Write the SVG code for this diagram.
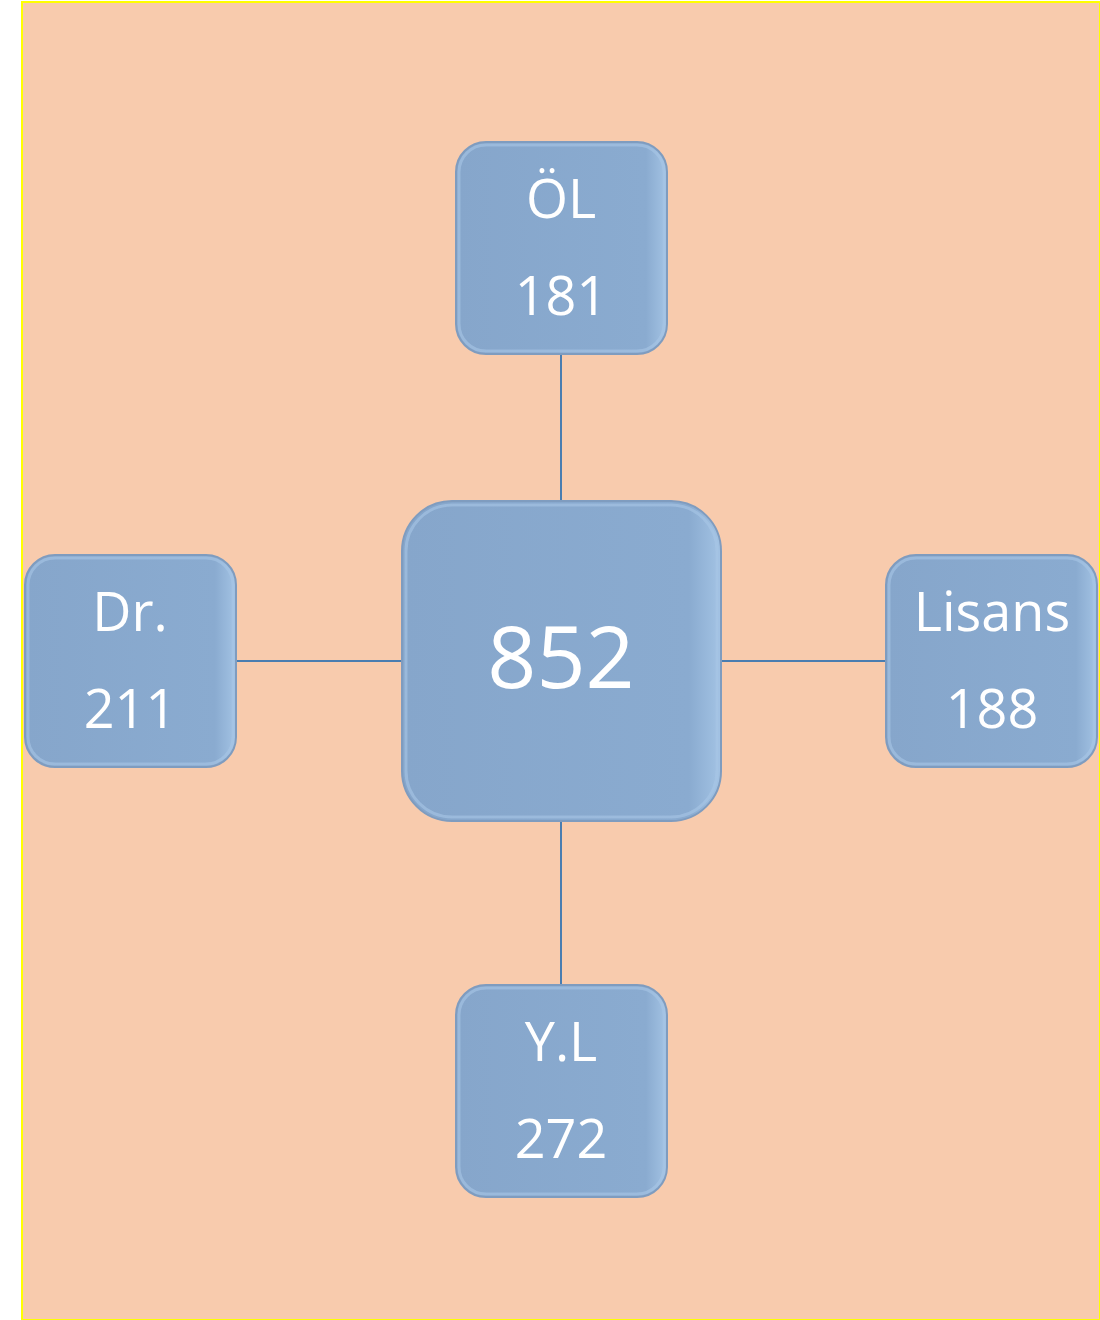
<svg xmlns="http://www.w3.org/2000/svg" width="1100" height="1320" viewBox="0 0 1100 1320">
<defs>
<linearGradient id="bev" x1="0" y1="0" x2="1" y2="0">
<stop offset="0" stop-color="#86a6cb"/>
<stop offset="0.9" stop-color="#8aabd0"/>
<stop offset="1" stop-color="#a3c3e4"/>
</linearGradient>
<style>
.box{fill:url(#bev);stroke:#7f9cbf;stroke-width:2}
.inner{fill:none;stroke:#a9c6e6;stroke-width:3;opacity:0.6}
.t{fill:#ffffff;font-family:"Open Sans","Noto Sans","DejaVu Sans",sans-serif;text-anchor:middle}
.s{font-size:54px}
.b{font-size:86px}
.c{stroke:#4a7db0;stroke-width:2;fill:none}
</style>
</defs>
<rect x="22" y="2" width="1078" height="1318" fill="#f8cbad" stroke="#ffff00" stroke-width="2"/>
<g id="connectors">
<line class="c" x1="561" y1="355" x2="561" y2="500"/>
<line class="c" x1="561" y1="821" x2="561" y2="984"/>
<line class="c" x1="237" y1="661" x2="401" y2="661"/>
<line class="c" x1="721" y1="661" x2="885" y2="661"/>
</g>
<g id="center">
<rect class="box" x="402" y="501" width="319" height="320" rx="50"/>
<rect class="inner" x="406" y="505" width="311" height="312" rx="46"/>
<text class="t b" x="561" y="688">852</text>
</g>
<g id="ol">
<rect class="box" x="456" y="142" width="211" height="212" rx="30"/>
<rect class="inner" x="459" y="145" width="205" height="206" rx="27"/>
<text class="t s" x="561" y="218">ÖL</text>
<text class="t s" x="561" y="315">181</text>
</g>
<g id="dr">
<rect class="box" x="25" y="555" width="211" height="212" rx="30"/>
<rect class="inner" x="28" y="558" width="205" height="206" rx="27"/>
<text class="t s" x="130" y="631">Dr.</text>
<text class="t s" x="130" y="728">211</text>
</g>
<g id="lisans">
<rect class="box" x="886" y="555" width="211" height="212" rx="30"/>
<rect class="inner" x="889" y="558" width="205" height="206" rx="27"/>
<text class="t s" x="992" y="631">Lisans</text>
<text class="t s" x="992" y="728">188</text>
</g>
<g id="yl">
<rect class="box" x="456" y="985" width="211" height="212" rx="30"/>
<rect class="inner" x="459" y="988" width="205" height="206" rx="27"/>
<text class="t s" x="561" y="1061">Y.L</text>
<text class="t s" x="561" y="1158">272</text>
</g>
</svg>
